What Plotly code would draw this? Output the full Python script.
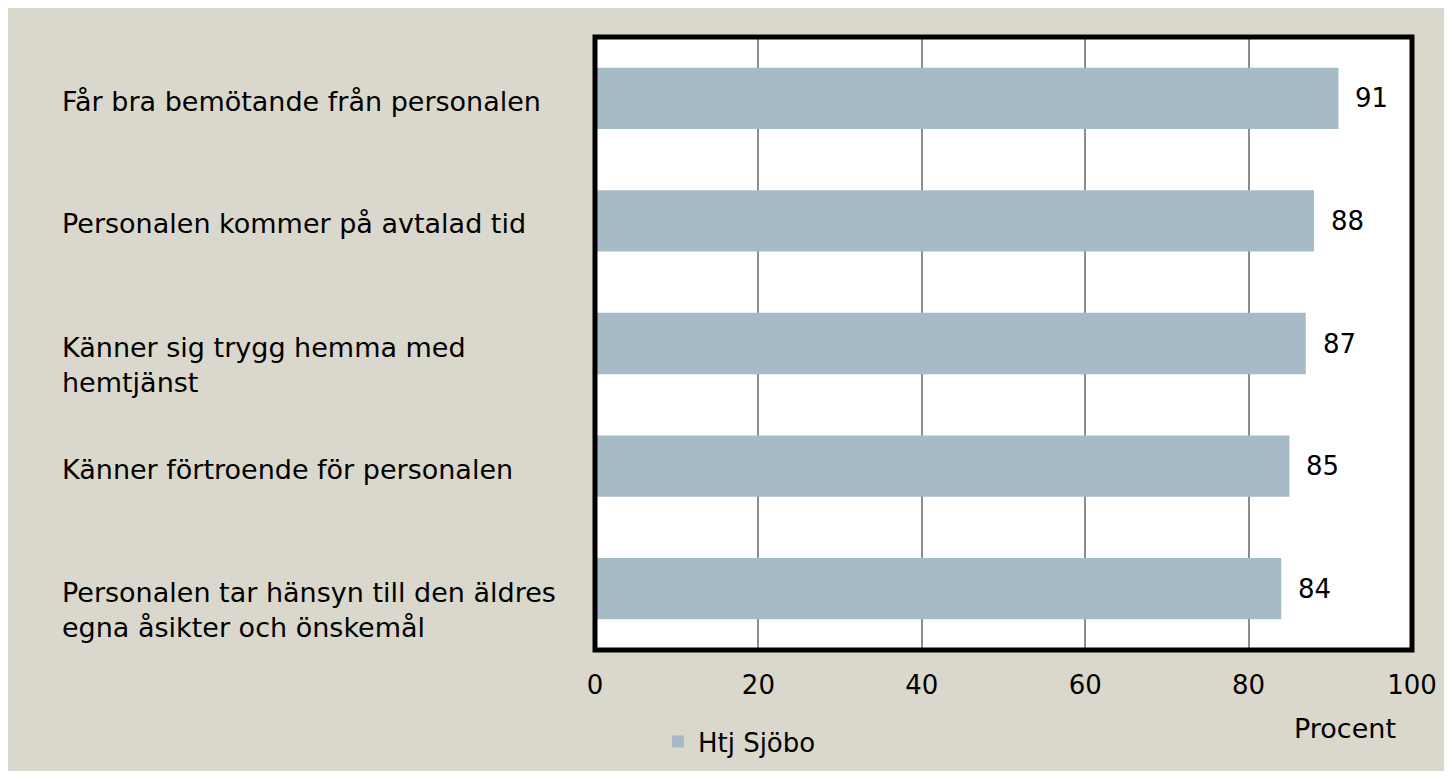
import plotly.graph_objects as go

categories = [
    "Får bra bemötande från personalen",
    "Personalen kommer på avtalad tid",
    "Känner sig trygg hemma med<br>hemtjänst",
    "Känner förtroende för personalen",
    "Personalen tar hänsyn till den äldres<br>egna åsikter och önskemål",
]
values = [91, 88, 87, 85, 84]
series_name = "Htj Sjöbo"
x_ticks = [0, 20, 40, 60, 80, 100]
x_title = "Procent"

FONT = "DejaVu Sans"
BG = "#dad8cc"
BAR = "#a7bbc7"

fig = go.Figure()
fig.add_trace(go.Bar(
    y=categories, x=values, orientation="h", name=series_name,
    marker=dict(color=BAR, line=dict(width=0)), width=0.5,
))

# value labels just outside the bar ends
for c, v in zip(categories, values):
    fig.add_annotation(
        x=v, xref="x", y=c, yref="y", text=str(v), showarrow=False,
        xanchor="left", yanchor="middle", xshift=15,
        font=dict(family=FONT, size=26, color="black"),
    )

# left-aligned category labels
for c in categories:
    fig.add_annotation(
        x=0, xref="paper", y=c, yref="y",
        text=c, showarrow=False, xanchor="left", align="left",
        xshift=-535, yshift=(-21 if "<br>" in c else -3),
        font=dict(family=FONT, size=27, color="black"),
    )

fig.add_annotation(
    x=1.0, xref="paper", y=0, yref="paper", yshift=-78, xshift=-67,
    text=x_title, showarrow=False, xanchor="center", yanchor="middle",
    font=dict(family=FONT, size=27, color="black"),
)

# plot-area frame (centered on the plot edges)
fig.add_shape(type="rect", xref="paper", yref="paper", x0=0, x1=1, y0=0, y1=1,
              line=dict(color="black", width=5), layer="above")

fig.update_layout(
    paper_bgcolor=BG, plot_bgcolor="white",
    margin=dict(l=587, r=32, t=29, b=121, autoexpand=False),
    showlegend=True,
    legend=dict(orientation="h", x=0.077, xanchor="left", y=-0.111, yanchor="top",
                font=dict(family=FONT, size=26, color="black"), bgcolor="rgba(0,0,0,0)"),
)
fig.update_xaxes(
    range=[0, 100], tickvals=x_ticks, showgrid=True, gridcolor="#8c8c8c", gridwidth=1.5,
    showline=False, zeroline=False, automargin=False,
    ticks="", tickfont=dict(family=FONT, size=26, color="black"), ticklabelstandoff=17,
)
fig.update_yaxes(
    categoryorder="array", categoryarray=categories[::-1], automargin=False,
    showticklabels=False, showgrid=False, showline=False, ticks="", zeroline=False,
)
fig.write_html("out.html")
